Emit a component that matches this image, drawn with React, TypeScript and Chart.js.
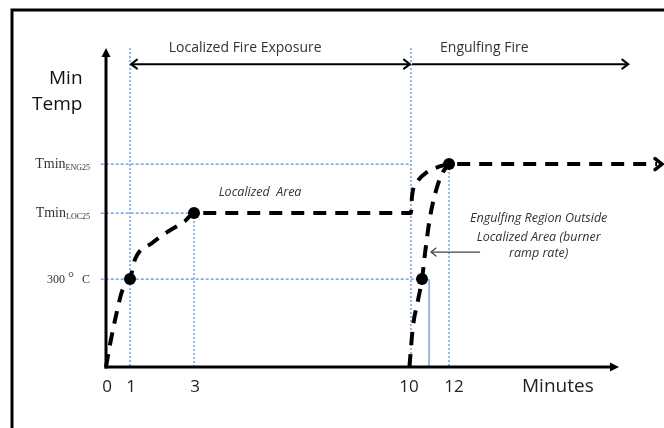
import React, { useEffect, useRef } from 'react';
import { Chart, registerables, LinearScale } from 'chart.js';

Chart.register(...registerables);

// ---------- data ----------
const minuteTicks = [0, 1, 3, 10, 12];
const levelTemps = [692, 525, 300]; // Tmin ENG25, Tmin LOC25, 300 °C
const levelNames = ['Tmin|ENG25', 'Tmin|LOC25', '300|°C'];

const localizedMinutes = [0, 0.17, 0.46, 0.67, 1, 1.16, 1.69, 2.16, 2.72, 3, 10, 10.05, 10.32, 10.84, 11.42, 12, 18.5];
const localizedTemps = [0, 78, 191, 259, 300, 368, 423, 460, 498, 525, 525, 580, 631, 665, 682, 692, 692];

const engulfMinutes = [9.95, 10.1, 10.37, 10.58, 10.74, 11.0, 11.37, 11.68, 12];
const engulfTemps = [0, 136, 228, 300, 389, 511, 614, 665, 692];

const markerMinutes = [1, 3, 10.58, 12];
const markerTemps = [300, 525, 300, 692];

const vGuideMinutes = [1, 3, 10, 12];
const vGuideTops = [1088, 525, 1088, 692];
const hGuideTemps = [692, 525, 300];
const hGuideEnds = [10, 3, 10.58];
const guideStart = -0.22;

const dropMinute = 10.95;

// schematic (non-linear) time axis breakpoints: minutes -> axis units
const axisBreakMinutes = [0, 1, 3, 10, 12];
const axisBreakUnits = [0, 0.75, 2.75, 9.53, 10.72];

const X_MAX = 17.31;
const Y_MAX = 1088;

// ---------- schematic scale ----------
function warp(v: number): number {
  const f = axisBreakMinutes, t = axisBreakUnits, n = f.length;
  if (v <= f[0]) return t[0] + (v - f[0]) * (t[1] - t[0]) / (f[1] - f[0]);
  if (v >= f[n - 1]) return t[n - 1] + (v - f[n - 1]);
  for (let i = 0; i < n - 1; i++) {
    if (v <= f[i + 1]) return t[i] + (v - f[i]) * (t[i + 1] - t[i]) / (f[i + 1] - f[i]);
  }
  return v;
}
function unwarp(u: number): number {
  const f = axisBreakMinutes, t = axisBreakUnits, n = f.length;
  if (u <= t[0]) return f[0] + (u - t[0]) * (f[1] - f[0]) / (t[1] - t[0]);
  if (u >= t[n - 1]) return f[n - 1] + (u - t[n - 1]);
  for (let i = 0; i < n - 1; i++) {
    if (u <= t[i + 1]) return f[i] + (u - t[i]) * (f[i + 1] - f[i]) / (t[i + 1] - t[i]);
  }
  return u;
}

class WarpScale extends LinearScale {
  static id = 'warp';
  determineDataLimits() {
    super.determineDataLimits();
    (this as any).min = warp((this as any).min);
    (this as any).max = warp((this as any).max);
  }
  buildTicks() {
    return [];
  }
  getPixelForValue(v: number) {
    return super.getPixelForValue(warp(v));
  }
  getValueForPixel(p: number) {
    return unwarp(super.getValueForPixel(p) as number);
  }
}
Chart.register(WarpScale as any);

const BLUE = '#5b8fd6';
const SANS = '"Open Sans", Lato, sans-serif';
const SERIF = '"Liberation Serif", "DejaVu Serif", serif';

function chevron(ctx: CanvasRenderingContext2D, tx: number, ty: number, dir: number, len: number, half: number, lw: number) {
  ctx.save();
  ctx.setLineDash([]);
  ctx.lineWidth = lw;
  ctx.lineCap = 'round';
  ctx.lineJoin = 'miter';
  ctx.beginPath();
  ctx.moveTo(tx - dir * len, ty - half);
  ctx.lineTo(tx, ty);
  ctx.lineTo(tx - dir * len, ty + half);
  ctx.stroke();
  ctx.restore();
}

const annotations = {
  id: 'annotations',
  afterDatasetsDraw(chart: any) {
    const { ctx, chartArea: ca, scales } = chart;
    const xs = scales.x, ys = scales.y;
    const X = (v: number) => xs.getPixelForValue(v);
    const Y = (v: number) => ys.getPixelForValue(v);
    ctx.save();
    ctx.setLineDash([]);
    ctx.strokeStyle = '#000';
    ctx.fillStyle = '#000';

    // frame
    ctx.lineWidth = 3;
    ctx.beginPath();
    ctx.moveTo(12, chart.height);
    ctx.lineTo(12, 10);
    ctx.lineTo(chart.width, 10);
    ctx.stroke();

    // y axis
    const x0 = X(0), y0 = Y(0);
    ctx.lineWidth = 3;
    ctx.beginPath();
    ctx.moveTo(x0, y0 + 1.5);
    ctx.lineTo(x0, ca.top + 6);
    ctx.stroke();
    ctx.beginPath();
    ctx.moveTo(x0, ca.top);
    ctx.lineTo(x0 - 4.5, ca.top + 9);
    ctx.lineTo(x0 + 4.5, ca.top + 9);
    ctx.closePath();
    ctx.fill();

    // x axis
    ctx.beginPath();
    ctx.moveTo(x0 - 1.5, y0);
    ctx.lineTo(ca.right - 6, y0);
    ctx.stroke();
    ctx.beginPath();
    ctx.moveTo(ca.right, y0);
    ctx.lineTo(ca.right - 9, y0 - 4.5);
    ctx.lineTo(ca.right - 9, y0 + 4.5);
    ctx.closePath();
    ctx.fill();

    // x tick labels
    ctx.fillStyle = '#222';
    ctx.font = `17px ${SANS}`;
    ctx.textAlign = 'center';
    ctx.textBaseline = 'middle';
    minuteTicks.forEach((t) => ctx.fillText(String(t), X(t) + (t >= 10 ? (t === 10 ? -2 : 5) : 1), y0 + 20));
    ctx.font = `19px ${SANS}`;
    ctx.fillText('Minutes', X(15.4), y0 + 20);

    // y level labels
    ctx.fillStyle = '#333';
    const rx = x0 - 16;
    levelTemps.forEach((temp, i) => {
      const [main, sub] = levelNames[i].split('|');
      const py = Y(temp);
      if (main === 'Tmin') {
        ctx.font = `8px ${SERIF}`;
        const sw = ctx.measureText(sub).width;
        ctx.textAlign = 'right';
        ctx.textBaseline = 'alphabetic';
        ctx.fillText(sub, rx, py + 6);
        ctx.font = `14px ${SERIF}`;
        ctx.fillText(main, rx - sw, py + 4);
      } else {
        ctx.textAlign = 'left';
        ctx.textBaseline = 'alphabetic';
        ctx.font = `12px ${SERIF}`;
        ctx.fillText(main, rx - 43, py + 4);
        ctx.font = `15px ${SERIF}`;
        ctx.fillText('°', rx - 22, py + 3);
        ctx.font = `12px ${SERIF}`;
        ctx.fillText('C', rx - 8, py + 4);
      }
    });

    // Min Temp label
    ctx.fillStyle = '#111';
    ctx.font = `19px ${SANS}`;
    ctx.textAlign = 'left';
    ctx.textBaseline = 'middle';
    ctx.fillText('Min', 49, 79);
    ctx.fillText('Temp', 32, 105);

    // top arrows
    const arrowY = Y(1033);
    ctx.strokeStyle = '#000';
    ctx.lineWidth = 2;
    ctx.beginPath();
    ctx.moveTo(X(1) + 2, arrowY);
    ctx.lineTo(X(10) - 2, arrowY);
    ctx.stroke();
    chevron(ctx, X(1) + 1, arrowY, -1, 6, 4.5, 2);
    chevron(ctx, X(10) - 1, arrowY, 1, 6, 4.5, 2);
    ctx.beginPath();
    ctx.moveTo(X(10) + 1, arrowY);
    ctx.lineTo(X(17.6) - 2, arrowY);
    ctx.stroke();
    chevron(ctx, X(17.6), arrowY, 1, 6, 4.5, 2);

    ctx.fillStyle = '#333';
    ctx.font = `14px ${SANS}`;
    ctx.textAlign = 'center';
    ctx.textBaseline = 'middle';
    ctx.fillText('Localized Fire Exposure', X(4.65), ca.top);
    ctx.fillText('Engulfing Fire', X(13.1), ca.top);

    // italic notes
    ctx.font = `italic 12.5px ${SANS}`;
    ctx.fillStyle = '#333';
    ctx.fillText('Localized  Area', X(5.13), Y(597));
    const noteLines = ['Engulfing Region Outside', 'Localized Area (burner', 'ramp rate)'];
    const noteTemps = [505, 443, 386];
    noteLines.forEach((s, i) => ctx.fillText(s, X(14.8), Y(noteTemps[i])));

    // small pointer arrow
    const py = Y(392);
    ctx.strokeStyle = '#444';
    ctx.lineWidth = 1.2;
    ctx.beginPath();
    ctx.moveTo(X(12.97), py);
    ctx.lineTo(X(11.05), py);
    ctx.stroke();
    chevron(ctx, X(11.05), py, -1, 5, 4, 1.2);

    // end arrow of the temperature line
    const lastX = X(localizedMinutes[localizedMinutes.length - 1]);
    const lastY = Y(localizedTemps[localizedTemps.length - 1]);
    ctx.strokeStyle = '#000';
    chevron(ctx, lastX + 5, lastY, 1, 7, 5.5, 3.5);

    ctx.restore();
  },
};

function buildDatasets() {
  const ds: any[] = [];
  ds.push({
    label: 'markers',
    data: markerMinutes.map((m, i) => ({ x: m, y: markerTemps[i] })),
    showLine: false,
    pointRadius: 6,
    pointBackgroundColor: '#000',
    pointBorderColor: '#000',
    pointBorderWidth: 0,
    order: 0,
    clip: false,
  });
  ds.push({
    label: 'localized',
    data: localizedMinutes.map((m, i) => ({ x: m, y: localizedTemps[i] })),
    borderColor: '#000',
    borderWidth: 4,
    borderDash: [13, 9],
    borderCapStyle: 'butt',
    pointRadius: 0,
    cubicInterpolationMode: 'monotone',
    fill: false,
    order: 1,
    clip: false,
  });
  ds.push({
    label: 'engulfing',
    data: engulfMinutes.map((m, i) => ({ x: m, y: engulfTemps[i] })),
    borderColor: '#000',
    borderWidth: 4,
    borderDash: [13, 9],
    borderCapStyle: 'butt',
    pointRadius: 0,
    cubicInterpolationMode: 'monotone',
    fill: false,
    order: 1,
    clip: false,
  });
  vGuideMinutes.forEach((m, i) => {
    ds.push({
      label: 'vguide' + i,
      data: [{ x: m, y: vGuideTops[i] }, { x: m, y: 0 }],
      borderColor: BLUE,
      borderWidth: 1.3,
      borderDash: [2, 2],
      pointRadius: 0,
      tension: 0,
      order: 5,
      clip: false,
    });
  });
  hGuideTemps.forEach((t, i) => {
    ds.push({
      label: 'hguide' + i,
      data: [{ x: guideStart, y: t }, { x: hGuideEnds[i], y: t }],
      borderColor: BLUE,
      borderWidth: 1.3,
      borderDash: [3, 2],
      pointRadius: 0,
      tension: 0,
      order: 5,
      clip: false,
    });
  });
  ds.push({
    label: 'drop',
    data: [{ x: dropMinute, y: 300 }, { x: dropMinute, y: 0 }],
    borderColor: BLUE,
    borderWidth: 1.2,
    pointRadius: 0,
    tension: 0,
    order: 4,
    clip: false,
  });
  return ds;
}

export default function App() {
  const ref = useRef<HTMLCanvasElement>(null);
  useEffect(() => {
    const canvas = ref.current;
    if (!canvas) return;
    const chart = new Chart(canvas, {
      type: 'line',
      data: { datasets: buildDatasets() },
      options: {
        responsive: false,
        animation: false,
        events: [],
        layout: { padding: { left: 106, right: 45, top: 48, bottom: 61 } },
        plugins: { legend: { display: false }, tooltip: { enabled: false } },
        scales: {
          x: { type: 'warp' as any, min: 0, max: X_MAX, bounds: 'data', display: false },
          y: { type: 'linear', min: 0, max: Y_MAX, display: false },
        },
      },
      plugins: [annotations],
    } as any);
    return () => chart.destroy();
  }, []);
  return (
    <div style={{ position: 'fixed', left: 0, top: 0, width: 664, height: 428, background: '#fff' }}>
      <canvas ref={ref} width={664} height={428} style={{ width: 664, height: 428, display: 'block' }} />
    </div>
  );
}
